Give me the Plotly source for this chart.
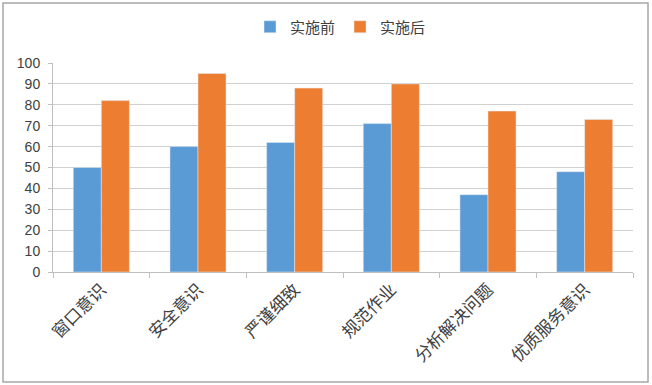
import plotly.graph_objects as go

categories = ["窗口意识", "安全意识", "严谨细致", "规范作业", "分析解决问题", "优质服务意识"]
before = [50, 60, 62, 71, 37, 48]
after = [82, 95, 88, 90, 77, 73]
series_names = ["实施前", "实施后"]
y_ticks = list(range(0, 101, 10))

FONT = "Liberation Sans, Noto Sans CJK SC, sans-serif"

fig = go.Figure()
fig.add_trace(go.Bar(x=categories, y=before, name=series_names[0], marker_color="#5B9BD5"))
fig.add_trace(go.Bar(x=categories, y=after, name=series_names[1], marker_color="#ED7D31"))

W, H = 652, 385
ml, mr, mt, mb = 53, 19, 63, 113
pw, ph = W - ml - mr, H - mt - mb

def px_x(p):
    return (p - ml) / pw

def px_y(p):
    return (H - mb - p) / ph

fig.update_layout(
    width=W, height=H,
    margin=dict(l=ml, r=mr, t=mt, b=mb, pad=0, autoexpand=False),
    paper_bgcolor="white", plot_bgcolor="white",
    font=dict(family=FONT, size=14, color="#404040"),
    barmode="group", bargap=0.42, bargroupgap=0,
    showlegend=True,
    legend=dict(orientation="h", x=px_x(250), xanchor="left", y=px_y(27), yanchor="middle",
                font=dict(size=15, color="#404040"), itemwidth=30, traceorder="normal"),
    xaxis=dict(type="category", showline=True, linecolor="#BFBFBF", linewidth=1,
               ticks="outside", tickson="boundaries", ticklen=5, tickcolor="#BFBFBF",
               tickangle=-45, tickfont=dict(size=17, color="#404040"), showgrid=False,
               automargin=False),
    yaxis=dict(range=[0, 100], tickvals=y_ticks, showline=True, linecolor="#BFBFBF",
               ticks="outside", ticklen=4, tickcolor="#BFBFBF", ticklabelstandoff=5,
               gridcolor="#D0D0D0", gridwidth=1, zeroline=False,
               tickfont=dict(size=14, color="#404040"), automargin=False),
    shapes=[dict(type="rect", xref="paper", yref="paper",
                 x0=px_x(3), x1=px_x(648), y0=px_y(382), y1=px_y(3),
                 line=dict(color="#A6A6A6", width=1.5), fillcolor="rgba(0,0,0,0)", layer="below")],
)

fig.write_html("out.html", config={"displayModeBar": False},
               post_script="document.body.style.margin='0px';document.body.style.overflow='hidden';")
